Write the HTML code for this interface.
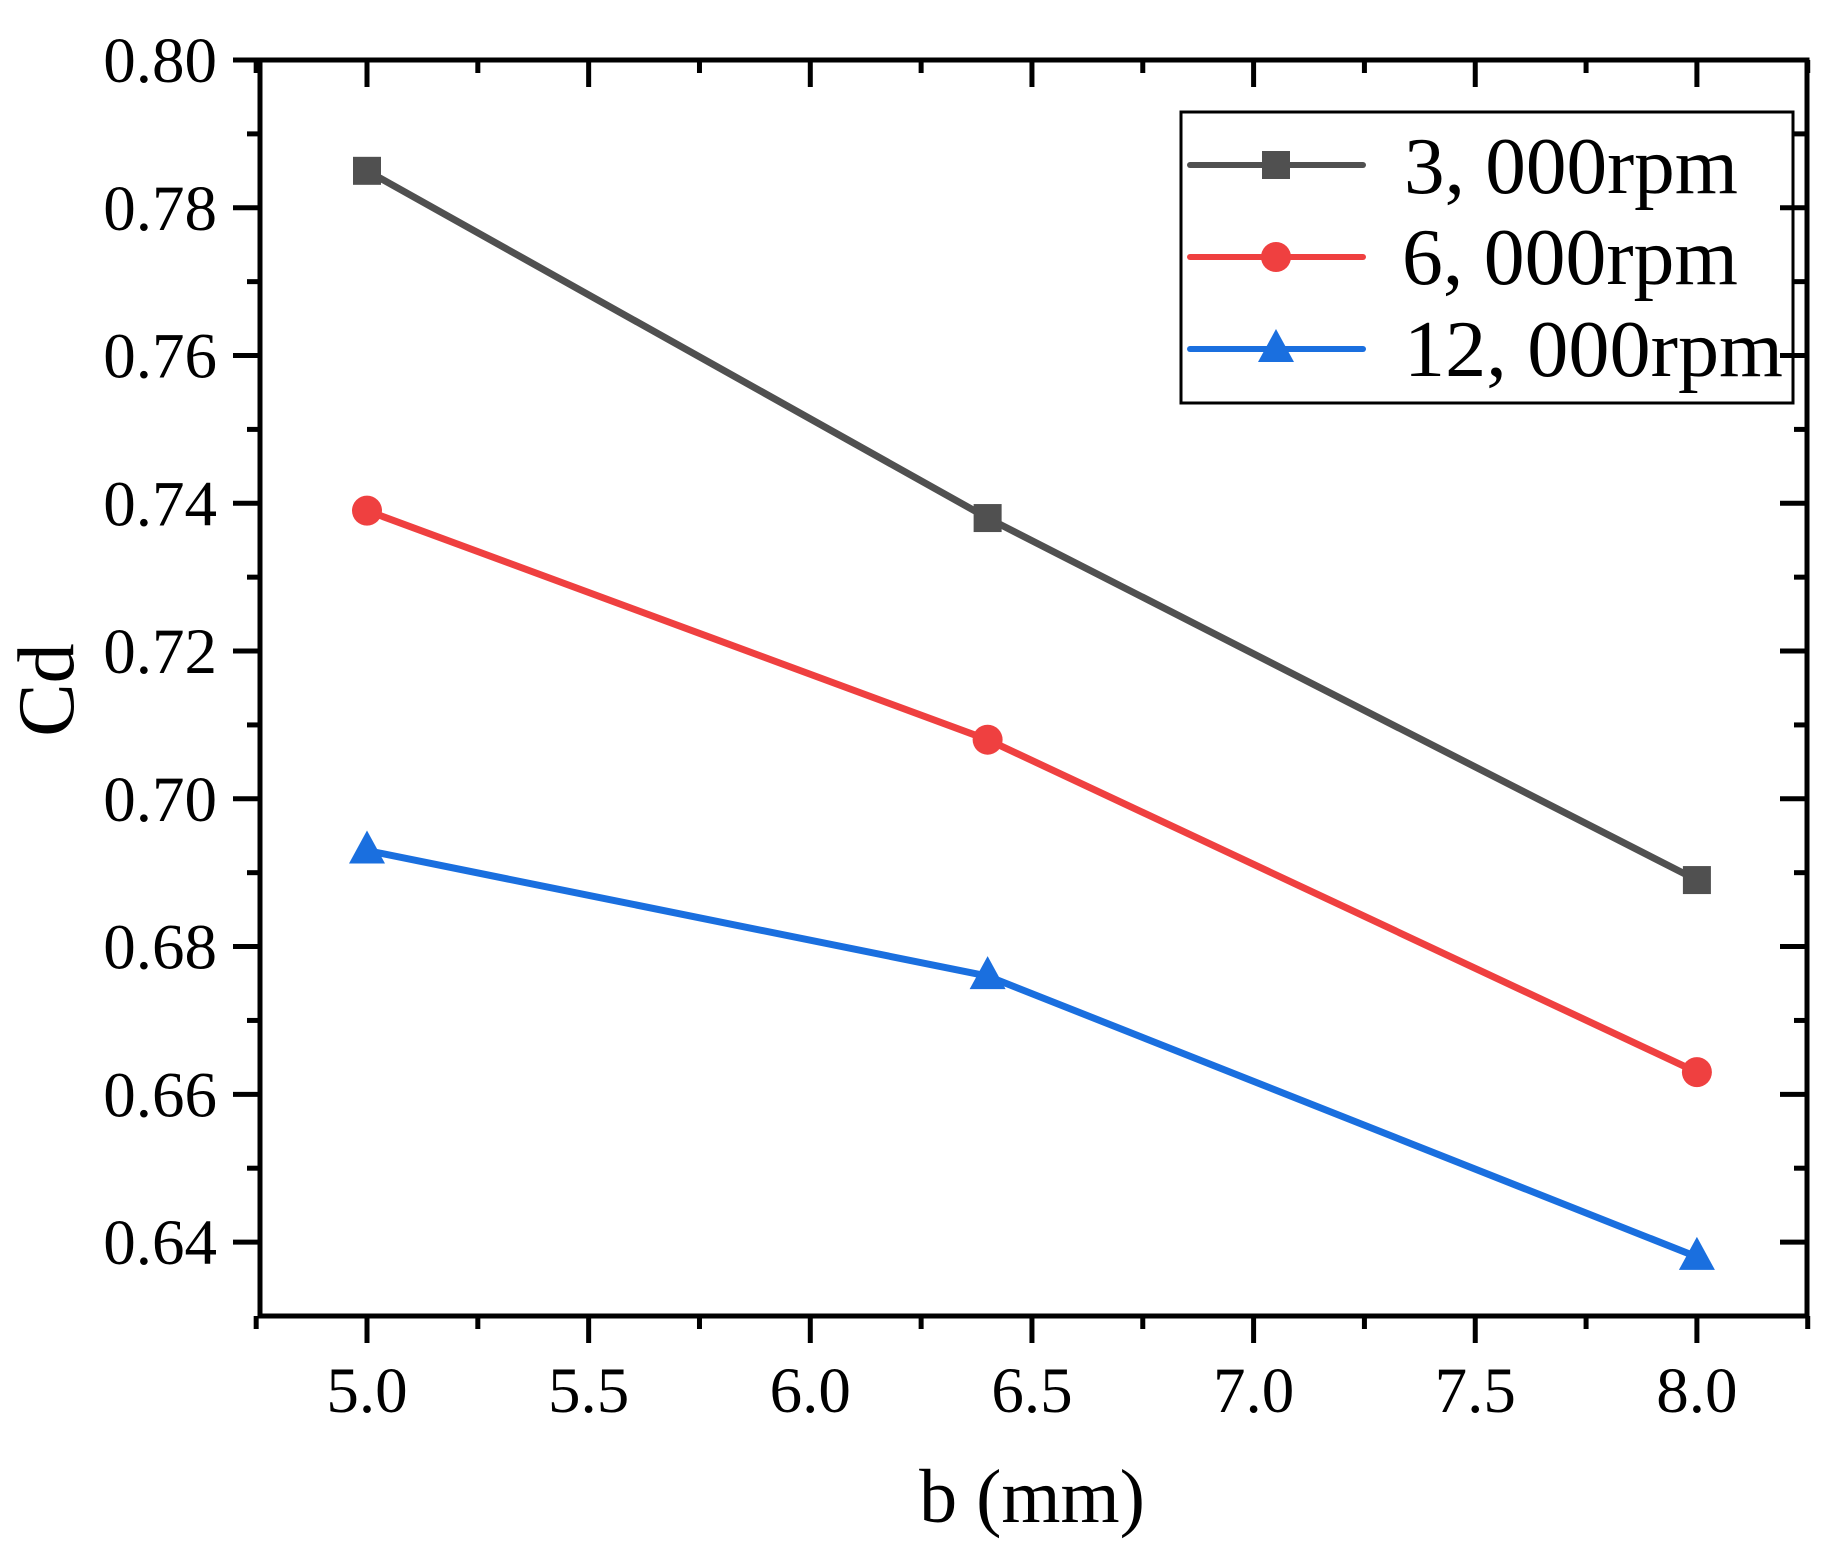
<!DOCTYPE html>
<html><head><meta charset="utf-8"><style>
html,body{margin:0;padding:0;background:#fff;}
svg{display:block;}
text{font-family:"Liberation Serif",serif;fill:#000;}
</style></head><body>
<svg width="1839" height="1565" viewBox="0 0 1839 1565" xmlns="http://www.w3.org/2000/svg">
<rect width="1839" height="1565" fill="#fff"/>
<g stroke="#000" stroke-width="5" fill="none">
<rect x="260" y="60" width="1547" height="1256"/>
</g>
<g stroke="#000" stroke-width="5" id="ticks"></g>
<g id="labels" font-size="65"></g>
<g id="series"></g>
<text x="73" y="690" font-size="80" text-anchor="middle" transform="rotate(-90 73 690)">Cd</text>
<text x="1032" y="1522" font-size="76" text-anchor="middle">b (mm)</text>
<g transform="translate(-7,0)">
<rect x="1188" y="112" width="612" height="291" fill="none" stroke="#000" stroke-width="3"/>
<g stroke-width="6" stroke-linecap="round">
<line x1="1197" y1="165" x2="1370" y2="165" stroke="#505050"/>
<line x1="1197" y1="257" x2="1370" y2="257" stroke="#ef4040"/>
<line x1="1197" y1="349" x2="1370" y2="349" stroke="#1a6fdf"/>
</g>
<rect x="1269" y="151" width="28" height="28" fill="#505050"/>
<circle cx="1283" cy="257" r="15" fill="#ef4040"/>
<polygon points="1283,329 1265,362 1301,362" fill="#1a6fdf"/>
<g font-size="80" font-family="Liberation Serif,serif">
<text x="1411" y="193" textLength="334" lengthAdjust="spacingAndGlyphs">3, 000rpm</text>
<text x="1409" y="284" textLength="336" lengthAdjust="spacingAndGlyphs">6, 000rpm</text>
<text x="1411" y="376" textLength="379" lengthAdjust="spacingAndGlyphs">12, 000rpm</text>
</g>
</g>
<script>
var ns="http://www.w3.org/2000/svg";
function X(v){return 367+(v-5)*443.3;}
function Y(v){return 60+(0.80-v)*7388;}
function el(t,a,p,txt){var e=document.createElementNS(ns,t);for(var k in a)e.setAttribute(k,a[k]);if(txt!==undefined)e.textContent=txt;document.getElementById(p).appendChild(e);return e;}
for(var i=0;i<=16;i++){var v=0.80-i*0.01;var y=Y(v);var major=(i%2==0);var L=major?27:13;
el('line',{x1:260-L,y1:y,x2:260,y2:y},'ticks');
el('line',{x1:1807,y1:y,x2:1807-L,y2:y},'ticks');
if(major){el('text',{x:217,y:y+22,'text-anchor':'end'},'labels',v.toFixed(2));}}
for(var j=0;j<=14;j++){var xv=4.75+j*0.25;var x=X(xv);var major=(j%2==1);var L=major?27:13;
el('line',{x1:x,y1:1316,x2:x,y2:1316+L},'ticks');
el('line',{x1:x,y1:60,x2:x,y2:60+L},'ticks');
if(major){el('text',{x:x,y:1412,'text-anchor':'middle'},'labels',xv.toFixed(1));}}
var xs=[5.0,6.4,8.0];
var S=[{c:'#505050',d:[0.785,0.738,0.689],m:'s'},{c:'#ef4040',d:[0.739,0.708,0.663],m:'c'},{c:'#1a6fdf',d:[0.693,0.676,0.638],m:'t'}];
S.forEach(function(s){var pts=xs.map(function(x,i){return X(x)+','+Y(s.d[i]);}).join(' ');
el('polyline',{points:pts,fill:'none',stroke:s.c,'stroke-width':7,'stroke-linejoin':'round'},'series');
xs.forEach(function(x,i){var cx=X(x),cy=Y(s.d[i]);
if(s.m=='s')el('rect',{x:cx-14,y:cy-14,width:28,height:28,fill:s.c},'series');
else if(s.m=='c')el('circle',{cx:cx,cy:cy,r:15,fill:s.c},'series');
else el('polygon',{points:cx+','+(cy-20)+' '+(cx-18)+','+(cy+13)+' '+(cx+18)+','+(cy+13),fill:s.c},'series');});});
</script>
</svg>
</body></html>
